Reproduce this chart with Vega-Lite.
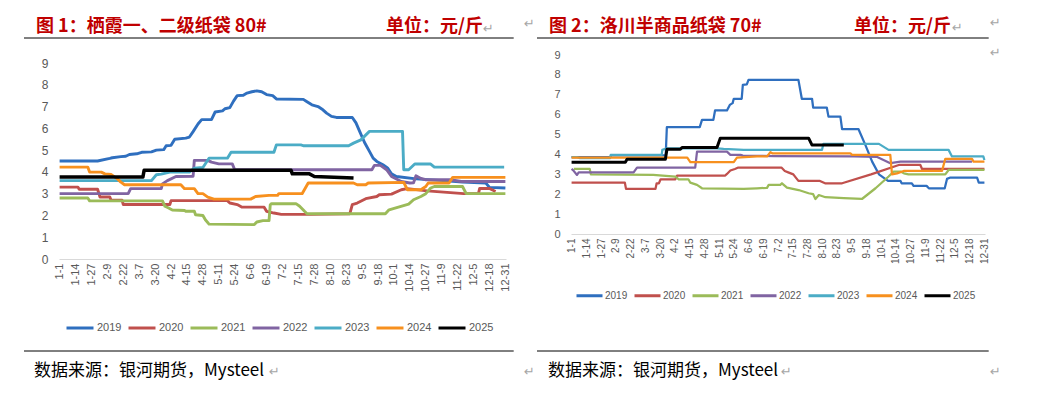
{
"$schema": "https://vega.github.io/schema/vega-lite/v6.json",
"padding": {"left": 23, "top": 17, "right": 0, "bottom": 10},
"autosize": {"type": "pad"},
"background": "white",
"config": {"view": {"stroke": null}, "font": "Liberation Sans"},
"spacing": 9,
"resolve": {"scale": {"color": "independent"}, "legend": {"color": "independent"}},
"datasets": {
"one": [{"k": 1}],
"p1": [
{"year":"2019","day":1,"v":4.5},{"year":"2019","day":32,"v":4.5},{"year":"2019","day":42,"v":4.62},{"year":"2019","day":44,"v":4.65},{"year":"2019","day":51,"v":4.7},{"year":"2019","day":55,"v":4.72},{"year":"2019","day":58,"v":4.8},{"year":"2019","day":64,"v":4.83},{"year":"2019","day":68,"v":4.9},{"year":"2019","day":76,"v":4.92},{"year":"2019","day":80,"v":5.0},{"year":"2019","day":86,"v":5.02},{"year":"2019","day":88,"v":5.2},{"year":"2019","day":92,"v":5.22},{"year":"2019","day":95,"v":5.5},{"year":"2019","day":104,"v":5.55},{"year":"2019","day":107,"v":5.6},{"year":"2019","day":110,"v":5.85},{"year":"2019","day":114,"v":6.2},{"year":"2019","day":117,"v":6.4},{"year":"2019","day":125,"v":6.4},{"year":"2019","day":128,"v":6.75},{"year":"2019","day":134,"v":6.8},{"year":"2019","day":136,"v":6.9},{"year":"2019","day":140,"v":6.95},{"year":"2019","day":143,"v":7.25},{"year":"2019","day":146,"v":7.5},{"year":"2019","day":151,"v":7.52},{"year":"2019","day":154,"v":7.62},{"year":"2019","day":158,"v":7.68},{"year":"2019","day":162,"v":7.72},{"year":"2019","day":166,"v":7.68},{"year":"2019","day":170,"v":7.55},{"year":"2019","day":175,"v":7.5},{"year":"2019","day":178,"v":7.35},{"year":"2019","day":200,"v":7.33},{"year":"2019","day":203,"v":7.22},{"year":"2019","day":207,"v":7.08},{"year":"2019","day":212,"v":7.0},{"year":"2019","day":216,"v":6.85},{"year":"2019","day":219,"v":6.7},{"year":"2019","day":223,"v":6.55},{"year":"2019","day":227,"v":6.5},{"year":"2019","day":240,"v":6.5},{"year":"2019","day":243,"v":6.25},{"year":"2019","day":246,"v":5.86},{"year":"2019","day":250,"v":5.35},{"year":"2019","day":254,"v":4.94},{"year":"2019","day":257,"v":4.63},{"year":"2019","day":260,"v":4.48},{"year":"2019","day":265,"v":4.33},{"year":"2019","day":269,"v":4.17},{"year":"2019","day":272,"v":3.91},{"year":"2019","day":276,"v":3.79},{"year":"2019","day":292,"v":3.68},{"year":"2019","day":314,"v":3.6},{"year":"2019","day":330,"v":3.53},{"year":"2019","day":349,"v":3.49},{"year":"2019","day":352,"v":3.29},{"year":"2019","day":365,"v":3.26},
{"year":"2020","day":1,"v":3.3},{"year":"2020","day":16,"v":3.3},{"year":"2020","day":17,"v":3.2},{"year":"2020","day":32,"v":3.2},{"year":"2020","day":34,"v":2.85},{"year":"2020","day":42,"v":2.85},{"year":"2020","day":43,"v":2.7},{"year":"2020","day":52,"v":2.7},{"year":"2020","day":53,"v":2.5},{"year":"2020","day":91,"v":2.5},{"year":"2020","day":92,"v":2.68},{"year":"2020","day":138,"v":2.68},{"year":"2020","day":140,"v":2.57},{"year":"2020","day":146,"v":2.5},{"year":"2020","day":150,"v":2.38},{"year":"2020","day":168,"v":2.38},{"year":"2020","day":170,"v":2.19},{"year":"2020","day":176,"v":2.11},{"year":"2020","day":182,"v":2.05},{"year":"2020","day":206,"v":2.05},{"year":"2020","day":238,"v":2.08},{"year":"2020","day":240,"v":2.5},{"year":"2020","day":244,"v":2.57},{"year":"2020","day":251,"v":2.77},{"year":"2020","day":260,"v":2.87},{"year":"2020","day":262,"v":2.95},{"year":"2020","day":272,"v":2.98},{"year":"2020","day":280,"v":3.18},{"year":"2020","day":285,"v":3.23},{"year":"2020","day":301,"v":3.13},{"year":"2020","day":331,"v":3.0},{"year":"2020","day":343,"v":3.0},{"year":"2020","day":344,"v":3.24},{"year":"2020","day":352,"v":3.24},{"year":"2020","day":357,"v":3.1},
{"year":"2021","day":1,"v":2.8},{"year":"2021","day":24,"v":2.8},{"year":"2021","day":25.5,"v":2.67},{"year":"2021","day":85,"v":2.67},{"year":"2021","day":87,"v":2.42},{"year":"2021","day":90,"v":2.34},{"year":"2021","day":93,"v":2.25},{"year":"2021","day":103,"v":2.23},{"year":"2021","day":104,"v":2.19},{"year":"2021","day":111,"v":2.19},{"year":"2021","day":112,"v":2.03},{"year":"2021","day":118,"v":2.0},{"year":"2021","day":120,"v":1.8},{"year":"2021","day":123,"v":1.6},{"year":"2021","day":160,"v":1.58},{"year":"2021","day":162,"v":1.7},{"year":"2021","day":167,"v":1.76},{"year":"2021","day":172,"v":1.76},{"year":"2021","day":173,"v":2.49},{"year":"2021","day":174,"v":2.54},{"year":"2021","day":194,"v":2.54},{"year":"2021","day":197,"v":2.42},{"year":"2021","day":201,"v":2.19},{"year":"2021","day":203,"v":2.08},{"year":"2021","day":267,"v":2.08},{"year":"2021","day":270,"v":2.26},{"year":"2021","day":286,"v":2.52},{"year":"2021","day":290,"v":2.72},{"year":"2021","day":296,"v":2.87},{"year":"2021","day":300,"v":3.0},{"year":"2021","day":304,"v":3.26},{"year":"2021","day":307,"v":3.33},{"year":"2021","day":330,"v":3.33},{"year":"2021","day":333,"v":3.0},{"year":"2021","day":365,"v":3.0},
{"year":"2022","day":1,"v":3.0},{"year":"2022","day":57,"v":3.0},{"year":"2022","day":59,"v":3.23},{"year":"2022","day":84,"v":3.23},{"year":"2022","day":85,"v":3.45},{"year":"2022","day":89,"v":3.6},{"year":"2022","day":96,"v":3.79},{"year":"2022","day":110,"v":3.8},{"year":"2022","day":111,"v":4.53},{"year":"2022","day":122,"v":4.53},{"year":"2022","day":125,"v":4.45},{"year":"2022","day":131,"v":4.37},{"year":"2022","day":142,"v":4.37},{"year":"2022","day":144,"v":4.1},{"year":"2022","day":256,"v":4.1},{"year":"2022","day":258,"v":4.3},{"year":"2022","day":263,"v":4.3},{"year":"2022","day":268,"v":4.1},{"year":"2022","day":272,"v":3.79},{"year":"2022","day":280,"v":3.56},{"year":"2022","day":287,"v":3.49},{"year":"2022","day":290,"v":3.5},{"year":"2022","day":292,"v":3.82},{"year":"2022","day":296,"v":3.7},{"year":"2022","day":300,"v":3.64},{"year":"2022","day":320,"v":3.64},{"year":"2022","day":329,"v":3.56},{"year":"2022","day":365,"v":3.56},
{"year":"2023","day":1,"v":3.6},{"year":"2023","day":76,"v":3.6},{"year":"2023","day":80,"v":3.87},{"year":"2023","day":84,"v":3.9},{"year":"2023","day":91,"v":3.99},{"year":"2023","day":107,"v":3.99},{"year":"2023","day":111,"v":4.17},{"year":"2023","day":118,"v":4.2},{"year":"2023","day":123,"v":4.63},{"year":"2023","day":138,"v":4.63},{"year":"2023","day":141,"v":4.9},{"year":"2023","day":176,"v":4.9},{"year":"2023","day":178,"v":5.24},{"year":"2023","day":198,"v":5.24},{"year":"2023","day":200,"v":5.2},{"year":"2023","day":237,"v":5.2},{"year":"2023","day":241,"v":5.32},{"year":"2023","day":247,"v":5.47},{"year":"2023","day":254,"v":5.86},{"year":"2023","day":281,"v":5.86},{"year":"2023","day":282,"v":4.1},{"year":"2023","day":286,"v":4.1},{"year":"2023","day":291,"v":4.36},{"year":"2023","day":304,"v":4.36},{"year":"2023","day":307,"v":4.22},{"year":"2023","day":364,"v":4.22},
{"year":"2024","day":1,"v":4.22},{"year":"2024","day":24,"v":4.22},{"year":"2024","day":25.5,"v":3.99},{"year":"2024","day":35,"v":3.99},{"year":"2024","day":38,"v":3.91},{"year":"2024","day":43,"v":3.88},{"year":"2024","day":48,"v":3.69},{"year":"2024","day":51,"v":3.53},{"year":"2024","day":54,"v":3.41},{"year":"2024","day":100,"v":3.41},{"year":"2024","day":103,"v":3.23},{"year":"2024","day":111,"v":3.23},{"year":"2024","day":114,"v":3.0},{"year":"2024","day":118,"v":3.0},{"year":"2024","day":122,"v":2.84},{"year":"2024","day":127,"v":2.75},{"year":"2024","day":157,"v":2.75},{"year":"2024","day":161,"v":2.87},{"year":"2024","day":172,"v":2.92},{"year":"2024","day":179,"v":2.92},{"year":"2024","day":180,"v":3.0},{"year":"2024","day":199,"v":3.0},{"year":"2024","day":204,"v":3.49},{"year":"2024","day":241,"v":3.49},{"year":"2024","day":244,"v":3.41},{"year":"2024","day":251,"v":3.41},{"year":"2024","day":253,"v":3.49},{"year":"2024","day":282,"v":3.52},{"year":"2024","day":285,"v":3.18},{"year":"2024","day":296,"v":3.18},{"year":"2024","day":300,"v":3.33},{"year":"2024","day":302,"v":3.49},{"year":"2024","day":319,"v":3.49},{"year":"2024","day":322,"v":3.75},{"year":"2024","day":365,"v":3.75},
{"year":"2025","day":1,"v":3.76},{"year":"2025","day":69,"v":3.76},{"year":"2025","day":70,"v":4.07},{"year":"2025","day":190,"v":4.07},{"year":"2025","day":191,"v":3.91},{"year":"2025","day":205,"v":3.91},{"year":"2025","day":209,"v":3.79},{"year":"2025","day":241,"v":3.72}
],
"p2": [
{"year":"2019","day":1,"v":3.86},{"year":"2019","day":35,"v":3.86},{"year":"2019","day":36,"v":3.95},{"year":"2019","day":84,"v":3.95},{"year":"2019","day":85,"v":5.37},{"year":"2019","day":114,"v":5.37},{"year":"2019","day":116,"v":5.74},{"year":"2019","day":126,"v":5.74},{"year":"2019","day":127.5,"v":6.21},{"year":"2019","day":138,"v":6.21},{"year":"2019","day":140.5,"v":6.49},{"year":"2019","day":143,"v":6.58},{"year":"2019","day":144,"v":6.8},{"year":"2019","day":151,"v":6.8},{"year":"2019","day":152,"v":7.5},{"year":"2019","day":155.5,"v":7.52},{"year":"2019","day":157,"v":7.75},{"year":"2019","day":201,"v":7.75},{"year":"2019","day":204,"v":6.8},{"year":"2019","day":213,"v":6.8},{"year":"2019","day":214,"v":6.36},{"year":"2019","day":226,"v":6.36},{"year":"2019","day":227.5,"v":5.9},{"year":"2019","day":238,"v":5.9},{"year":"2019","day":239.5,"v":5.27},{"year":"2019","day":254,"v":5.27},{"year":"2019","day":260,"v":4.48},{"year":"2019","day":266,"v":3.64},{"year":"2019","day":272,"v":3.0},{"year":"2019","day":280,"v":2.67},{"year":"2019","day":291,"v":2.67},{"year":"2019","day":292,"v":2.55},{"year":"2019","day":301,"v":2.55},{"year":"2019","day":302.5,"v":2.42},{"year":"2019","day":314,"v":2.42},{"year":"2019","day":316,"v":2.3},{"year":"2019","day":330,"v":2.3},{"year":"2019","day":332,"v":2.77},{"year":"2019","day":335,"v":2.84},{"year":"2019","day":358.5,"v":2.84},{"year":"2019","day":360,"v":2.58},{"year":"2019","day":365,"v":2.58},
{"year":"2020","day":1,"v":2.58},{"year":"2020","day":48,"v":2.58},{"year":"2020","day":49,"v":2.27},{"year":"2020","day":75,"v":2.27},{"year":"2020","day":76,"v":2.55},{"year":"2020","day":78,"v":2.55},{"year":"2020","day":79.5,"v":2.75},{"year":"2020","day":92.5,"v":2.75},{"year":"2020","day":94,"v":2.94},{"year":"2020","day":136.5,"v":2.94},{"year":"2020","day":138,"v":3.02},{"year":"2020","day":141,"v":3.19},{"year":"2020","day":145,"v":3.27},{"year":"2020","day":148,"v":3.34},{"year":"2020","day":186,"v":3.34},{"year":"2020","day":189,"v":3.17},{"year":"2020","day":192,"v":3.1},{"year":"2020","day":196.5,"v":3.0},{"year":"2020","day":201,"v":2.67},{"year":"2020","day":220,"v":2.67},{"year":"2020","day":224.5,"v":2.55},{"year":"2020","day":239.5,"v":2.55},{"year":"2020","day":265,"v":3.0},{"year":"2020","day":289.5,"v":3.47},{"year":"2020","day":308.5,"v":3.47},{"year":"2020","day":310,"v":3.27},{"year":"2020","day":365,"v":3.27},
{"year":"2021","day":3,"v":3.27},{"year":"2021","day":17,"v":3.27},{"year":"2021","day":18,"v":3.0},{"year":"2021","day":73,"v":2.97},{"year":"2021","day":92.5,"v":2.89},{"year":"2021","day":95.5,"v":2.75},{"year":"2021","day":104,"v":2.75},{"year":"2021","day":105.7,"v":2.58},{"year":"2021","day":111.6,"v":2.47},{"year":"2021","day":116,"v":2.3},{"year":"2021","day":152.7,"v":2.27},{"year":"2021","day":164.5,"v":2.3},{"year":"2021","day":173.3,"v":2.32},{"year":"2021","day":174.8,"v":2.47},{"year":"2021","day":185,"v":2.47},{"year":"2021","day":186.5,"v":2.55},{"year":"2021","day":190.9,"v":2.33},{"year":"2021","day":201.2,"v":2.21},{"year":"2021","day":210,"v":2.05},{"year":"2021","day":214,"v":2.0},{"year":"2021","day":216,"v":1.76},{"year":"2021","day":219,"v":1.96},{"year":"2021","day":224.8,"v":1.85},{"year":"2021","day":241,"v":1.8},{"year":"2021","day":257,"v":1.76},{"year":"2021","day":269,"v":2.3},{"year":"2021","day":280.5,"v":2.89},{"year":"2021","day":285,"v":3.14},{"year":"2021","day":291,"v":3.14},{"year":"2021","day":294,"v":3.05},{"year":"2021","day":298,"v":3.0},{"year":"2021","day":330.5,"v":3.0},{"year":"2021","day":333.4,"v":3.22},{"year":"2021","day":365,"v":3.22},
{"year":"2022","day":1,"v":3.27},{"year":"2022","day":2.5,"v":3.2},{"year":"2022","day":5.8,"v":2.97},{"year":"2022","day":7.3,"v":3.1},{"year":"2022","day":55.7,"v":3.1},{"year":"2022","day":58.7,"v":3.34},{"year":"2022","day":110,"v":3.34},{"year":"2022","day":111.6,"v":4.14},{"year":"2022","day":138,"v":4.14},{"year":"2022","day":141,"v":3.98},{"year":"2022","day":150,"v":3.98},{"year":"2022","day":152,"v":3.94},{"year":"2022","day":180,"v":3.92},{"year":"2022","day":250,"v":3.9},{"year":"2022","day":270,"v":3.88},{"year":"2022","day":282,"v":3.56},{"year":"2022","day":291,"v":3.64},{"year":"2022","day":354,"v":3.64},
{"year":"2023","day":1,"v":3.86},{"year":"2023","day":6,"v":3.86},{"year":"2023","day":8,"v":3.82},{"year":"2023","day":35,"v":3.82},{"year":"2023","day":35.5,"v":3.98},{"year":"2023","day":80.5,"v":3.98},{"year":"2023","day":81,"v":4.23},{"year":"2023","day":85,"v":4.31},{"year":"2023","day":129,"v":4.31},{"year":"2023","day":135,"v":4.28},{"year":"2023","day":152.7,"v":4.23},{"year":"2023","day":221.8,"v":4.23},{"year":"2023","day":223,"v":4.53},{"year":"2023","day":272,"v":4.53},{"year":"2023","day":280.5,"v":4.23},{"year":"2023","day":333.4,"v":4.23},{"year":"2023","day":336.4,"v":3.9},{"year":"2023","day":364,"v":3.9},{"year":"2023","day":365,"v":3.72},
{"year":"2024","day":1,"v":3.84},{"year":"2024","day":103,"v":3.84},{"year":"2024","day":105.7,"v":3.61},{"year":"2024","day":144,"v":3.61},{"year":"2024","day":146.8,"v":3.84},{"year":"2024","day":164.5,"v":3.9},{"year":"2024","day":173.3,"v":3.9},{"year":"2024","day":176.3,"v":4.11},{"year":"2024","day":178,"v":4.06},{"year":"2024","day":246.8,"v":4.06},{"year":"2024","day":248.3,"v":3.98},{"year":"2024","day":282,"v":3.98},{"year":"2024","day":283.5,"v":3.0},{"year":"2024","day":288,"v":3.05},{"year":"2024","day":293.8,"v":3.17},{"year":"2024","day":327.6,"v":3.17},{"year":"2024","day":330.5,"v":3.78},{"year":"2024","day":354,"v":3.78},{"year":"2024","day":355.4,"v":3.64},{"year":"2024","day":365,"v":3.64},
{"year":"2025","day":1,"v":3.61},{"year":"2025","day":48.4,"v":3.61},{"year":"2025","day":49.9,"v":3.76},{"year":"2025","day":83.7,"v":3.76},{"year":"2025","day":85.1,"v":4.26},{"year":"2025","day":96.9,"v":4.26},{"year":"2025","day":98.4,"v":4.35},{"year":"2025","day":129.2,"v":4.35},{"year":"2025","day":132.1,"v":4.82},{"year":"2025","day":210,"v":4.82},{"year":"2025","day":212.9,"v":4.48},{"year":"2025","day":241,"v":4.48}
]
},
"hconcat": [
{
"width": 447, "height": 196,
"layer": [
{"data": {"name": "p1"},
 "mark": {"type": "line", "strokeJoin": "round", "clip": false},
 "encoding": {
  "x": {"field": "day", "type": "quantitative", "scale": {"domain": [0.5, 365.5], "nice": false, "zero": false},
        "axis": {"values": [1,14,27,40,53,66,79,92,105,118,131,144,157,170,183,196,209,222,235,248,261,274,287,300,313,326,339,352,365],
                 "labelExpr": "timeFormat(datetime(2019, 0, datum.value), '%-m-%-d')",
                 "labelAngle": 270, "labelFontSize": 11, "labelColor": "#595959", "labelPadding": 4,
                 "ticks": false, "grid": false, "domainColor": "#D9D9D9", "title": null,
                 "labelOverlap": false, "labelFlush": false, "labelBound": false}},
  "y": {"field": "v", "type": "quantitative", "scale": {"domain": [0, 9], "nice": false},
        "axis": {"values": [0,1,2,3,4,5,6,7,8,9], "domain": false, "ticks": false, "grid": false,
                 "labelFontSize": 12, "labelColor": "#595959", "labelPadding": 11, "title": null}},
  "color": {"field": "year", "type": "nominal",
            "scale": {"domain": ["2019","2020","2021","2022","2023","2024","2025"],
                      "range": ["#2F6FBF","#C0504D","#9BBB59","#8064A2","#4BACC6","#F7901E","#000000"]},
            "legend": {"orient": "none", "legendX": 6, "legendY": 250, "direction": "horizontal", "columns": 7,
                       "title": null, "symbolType": "stroke", "symbolSize": 729, "symbolStrokeWidth": 3,
                       "labelFont": "Liberation Sans", "labelFontSize": 11,
                       "labelColor": "#595959", "labelOffset": 2, "columnPadding": 0}},
  "strokeWidth": {"condition": {"test": "datum.year === '2025'", "value": 3.5}, "value": 2.9}
 }},
{"data": {"name": "one"}, "mark": {"type": "text", "align": "left", "baseline": "middle", "font": "Noto Sans CJK SC", "fontSize": 18, "fontWeight": "bold", "color": "#C00000"},
 "encoding": {"x": {"value": -23}, "y": {"value": -36}, "text": {"value": "图 1：栖霞一、二级纸袋 80#"}}},
{"data": {"name": "one"}, "mark": {"type": "text", "align": "left", "baseline": "middle", "font": "Noto Sans CJK SC", "fontSize": 18, "fontWeight": "bold", "color": "#C00000"},
 "encoding": {"x": {"value": 327}, "y": {"value": -36}, "text": {"value": "单位：元/斤"}}},
{"data": {"name": "one"}, "mark": {"type": "text", "align": "left", "baseline": "middle", "font": "DejaVu Sans", "fontSize": 13, "color": "#A6A6A6"},
 "encoding": {"x": {"value": 424}, "y": {"value": -34}, "text": {"value": "↵"}}},
{"data": {"name": "one"}, "mark": {"type": "rule", "color": "#000000", "strokeWidth": 1},
 "encoding": {"x": {"value": -35}, "x2": {"value": 454.7}, "y": {"value": -25}}},
{"data": {"name": "one"}, "mark": {"type": "rule", "color": "#000000", "strokeWidth": 1},
 "encoding": {"x": {"value": -35}, "x2": {"value": 454.7}, "y": {"value": 288}}},
{"data": {"name": "one"}, "mark": {"type": "text", "align": "left", "baseline": "middle", "font": "Noto Sans CJK SC", "fontSize": 17, "color": "#000000"},
 "encoding": {"x": {"value": -25}, "y": {"value": 308}, "text": {"value": "数据来源：银河期货，Mysteel"}}},
{"data": {"name": "one"}, "mark": {"type": "text", "align": "left", "baseline": "middle", "font": "DejaVu Sans", "fontSize": 13, "color": "#A6A6A6"},
 "encoding": {"x": {"value": 210}, "y": {"value": 309}, "text": {"value": "↵"}}}
]
},
{
"width": 414, "height": 171,
"layer": [
{"data": {"name": "p2"},
 "mark": {"type": "line", "strokeJoin": "round", "clip": false},
 "encoding": {
  "x": {"field": "day", "type": "quantitative", "scale": {"domain": [0.5, 365.5], "nice": false, "zero": false},
        "axis": {"values": [1,14,27,40,53,66,79,92,105,118,131,144,157,170,183,196,209,222,235,248,261,274,287,300,313,326,339,352,365],
                 "labelExpr": "timeFormat(datetime(2019, 0, datum.value), '%-m-%-d')",
                 "labelAngle": 270, "labelFontSize": 10, "labelColor": "#595959", "labelPadding": 4,
                 "ticks": false, "grid": false, "domainColor": "#D9D9D9", "title": null,
                 "labelOverlap": false, "labelFlush": false, "labelBound": false}},
  "y": {"field": "v", "type": "quantitative", "scale": {"domain": [0, 9], "nice": false, "range": [171, -8]},
        "axis": {"values": [0,1,2,3,4,5,6,7,8,9], "domain": false, "ticks": false, "grid": false,
                 "labelFontSize": 11, "labelColor": "#595959", "labelPadding": 11, "title": null}},
  "color": {"field": "year", "type": "nominal",
            "scale": {"domain": ["2019","2020","2021","2022","2023","2024","2025"],
                      "range": ["#2F6FBF","#C0504D","#9BBB59","#8064A2","#4BACC6","#F7901E","#000000"]},
            "legend": {"orient": "none", "legendX": 4, "legendY": 218, "direction": "horizontal", "columns": 7,
                       "title": null, "symbolType": "stroke", "symbolSize": 676, "symbolStrokeWidth": 3,
                       "labelFont": "Liberation Sans", "labelFontSize": 10,
                       "labelColor": "#595959", "labelOffset": 1, "columnPadding": 0}},
  "strokeWidth": {"condition": {"test": "datum.year === '2025'", "value": 3}, "value": 2.25}
 }},
{"data": {"name": "one"}, "mark": {"type": "text", "align": "left", "baseline": "middle", "font": "Noto Sans CJK SC", "fontSize": 18, "fontWeight": "bold", "color": "#C00000"},
 "encoding": {"x": {"value": -22}, "y": {"value": -36}, "text": {"value": "图 2：洛川半商品纸袋 70#"}}},
{"data": {"name": "one"}, "mark": {"type": "text", "align": "left", "baseline": "middle", "font": "Noto Sans CJK SC", "fontSize": 18, "fontWeight": "bold", "color": "#C00000"},
 "encoding": {"x": {"value": 283}, "y": {"value": -36}, "text": {"value": "单位：元/斤"}}},
{"data": {"name": "one"}, "mark": {"type": "text", "align": "left", "baseline": "middle", "font": "DejaVu Sans", "fontSize": 13, "color": "#A6A6A6"},
 "encoding": {"x": {"value": 381}, "y": {"value": -35}, "text": {"value": "↵"}}},
{"data": {"name": "one"}, "mark": {"type": "text", "align": "left", "baseline": "middle", "font": "DejaVu Sans", "fontSize": 13, "color": "#A6A6A6"},
 "encoding": {"x": {"value": 419}, "y": {"value": -40}, "text": {"value": "↵"}}},
{"data": {"name": "one"}, "mark": {"type": "text", "align": "left", "baseline": "middle", "font": "DejaVu Sans", "fontSize": 13, "color": "#A6A6A6"},
 "encoding": {"x": {"value": 419}, "y": {"value": -10}, "text": {"value": "↵"}}},
{"data": {"name": "one"}, "mark": {"type": "text", "align": "left", "baseline": "middle", "font": "DejaVu Sans", "fontSize": 13, "color": "#A6A6A6"},
 "encoding": {"x": {"value": -47}, "y": {"value": -39}, "text": {"value": "↵"}}},
{"data": {"name": "one"}, "mark": {"type": "rule", "color": "#000000", "strokeWidth": 1},
 "encoding": {"x": {"value": -34}, "x2": {"value": 417.7}, "y": {"value": -25}}},
{"data": {"name": "one"}, "mark": {"type": "rule", "color": "#000000", "strokeWidth": 1},
 "encoding": {"x": {"value": -34}, "x2": {"value": 417.7}, "y": {"value": 288}}},
{"data": {"name": "one"}, "mark": {"type": "text", "align": "left", "baseline": "middle", "font": "Noto Sans CJK SC", "fontSize": 17, "color": "#000000"},
 "encoding": {"x": {"value": -23}, "y": {"value": 308}, "text": {"value": "数据来源：银河期货，Mysteel"}}},
{"data": {"name": "one"}, "mark": {"type": "text", "align": "left", "baseline": "middle", "font": "DejaVu Sans", "fontSize": 13, "color": "#A6A6A6"},
 "encoding": {"x": {"value": 210}, "y": {"value": 309}, "text": {"value": "↵"}}},
{"data": {"name": "one"}, "mark": {"type": "text", "align": "left", "baseline": "middle", "font": "DejaVu Sans", "fontSize": 13, "color": "#A6A6A6"},
 "encoding": {"x": {"value": -47}, "y": {"value": 309}, "text": {"value": "↵"}}},
{"data": {"name": "one"}, "mark": {"type": "text", "align": "left", "baseline": "middle", "font": "DejaVu Sans", "fontSize": 13, "color": "#A6A6A6"},
 "encoding": {"x": {"value": 419}, "y": {"value": 309}, "text": {"value": "↵"}}}
]
}
]
}
